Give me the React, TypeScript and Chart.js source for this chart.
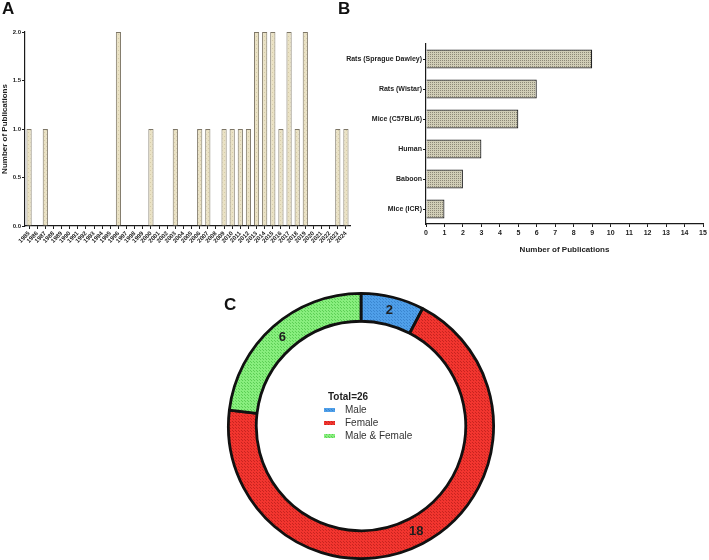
import React, { useEffect, useRef } from 'react';
import Chart from 'chart.js/auto';

const FONT = "Arial, 'Liberation Sans', Helvetica, sans-serif";

const years = [
  '1985', '1986', '1987', '1988', '1989', '1990', '1991', '1992', '1993', '1994',
  '1995', '1996', '1997', '1998', '1999', '2000', '2001', '2002', '2003', '2004',
  '2005', '2006', '2007', '2008', '2009', '2010', '2011', '2012', '2013', '2014',
  '2015', '2016', '2017', '2018', '2019', '2020', '2021', '2022', '2023', '2024',
];
const yearCounts = [
  1, 0, 1, 0, 0, 0, 0, 0, 0, 0,
  0, 2, 0, 0, 0, 1, 0, 0, 1, 0,
  0, 1, 1, 0, 1, 1, 1, 1, 2, 2,
  2, 1, 2, 1, 2, 0, 0, 0, 1, 1,
];
const yTicksA = [0, 0.5, 1, 1.5, 2];

const models = ['Rats (Sprague Dawley)', 'Rats (Wistar)', 'Mice (C57BL/6)', 'Human', 'Baboon', 'Mice (ICR)'];
const modelCounts = [9, 6, 5, 3, 2, 1];

const sexLabels = ['Male', 'Female', 'Male & Female'];
const sexCounts = [2, 18, 6];

function makePattern(base: string, dot: string, size = 3): CanvasPattern | string {
  const c = document.createElement('canvas');
  c.width = size;
  c.height = size;
  const g = c.getContext('2d');
  if (!g) return base;
  g.fillStyle = base;
  g.fillRect(0, 0, size, size);
  g.fillStyle = dot;
  g.fillRect(0, 0, 1, 1);
  if (size >= 3) g.fillRect(Math.floor(size / 2), Math.floor(size / 2), 1, 1);
  const p = g.createPattern(c, 'repeat');
  return p || base;
}

export default function App() {
  const refA = useRef<HTMLCanvasElement>(null);
  const refB = useRef<HTMLCanvasElement>(null);
  const refC = useRef<HTMLCanvasElement>(null);

  useEffect(() => {
    const charts: Chart[] = [];
    const patA = makePattern('#eae2c5', '#d6cca9', 4);
    const patB = makePattern('#d0cdb6', '#8c8877', 2);
    const patBlue = makePattern('#4f9fe9', '#3a86d0', 3);
    const patRed = makePattern('#f2352f', '#c8241f', 3);
    const patGreen = makePattern('#88ee7e', '#5ccf55', 3);
    const axisColor = '#1a1a1a';

    if (refA.current) {
      charts.push(new Chart(refA.current, {
        type: 'bar',
        data: {
          labels: years,
          datasets: [{
            data: yearCounts,
            backgroundColor: patA as any,
            borderColor: '#7d7666',
            borderWidth: 1,
            barPercentage: 0.64,
            categoryPercentage: 1,
          }],
        },
        options: {
          animation: false,
          responsive: false,
          maintainAspectRatio: false,
          layout: { padding: { top: 32, right: 10, left: 0, bottom: 0 } },
          plugins: { legend: { display: false }, tooltip: { enabled: false } },
          scales: {
            x: {
              grid: { offset: false, drawOnChartArea: false, drawTicks: true, tickLength: 3, color: axisColor, lineWidth: 1 },
              border: { color: axisColor, width: 1.2 },
              ticks: {
                autoSkip: false, maxRotation: 45, minRotation: 45, padding: 1,
                font: { size: 6, weight: 'bold', family: FONT }, color: '#222',
              },
              afterFit: (s: any) => { s.height = 64; },
            },
            y: {
              min: 0, max: 2,
              afterBuildTicks: (s: any) => { s.ticks = yTicksA.map((v) => ({ value: v })); },
              grid: { drawOnChartArea: false, drawTicks: true, tickLength: 3, color: axisColor, lineWidth: 1 },
              border: { color: axisColor, width: 1.2 },
              ticks: {
                padding: 1,
                callback: (v: any) => Number(v).toFixed(1),
                font: { size: 6, weight: 'bold', family: FONT }, color: '#222',
              },
              title: {
                display: true, text: 'Number of Publications', padding: 0,
                font: { size: 8, weight: 'bold', family: FONT }, color: '#222',
              },
              afterFit: (s: any) => { s.width = 25; },
            },
          },
        },
      }));
    }

    if (refB.current) {
      charts.push(new Chart(refB.current, {
        type: 'bar',
        data: {
          labels: models,
          datasets: [{
            data: modelCounts,
            backgroundColor: patB as any,
            borderColor: '#222',
            borderWidth: 1.2,
            barPercentage: 0.63,
            categoryPercentage: 1,
          }],
        },
        options: {
          indexAxis: 'y',
          animation: false,
          responsive: false,
          maintainAspectRatio: false,
          layout: { padding: { top: 44, right: 6, left: 0, bottom: 15 } },
          plugins: { legend: { display: false }, tooltip: { enabled: false } },
          scales: {
            x: {
              min: 0, max: 15,
              ticks: { stepSize: 1, padding: 2, font: { size: 7, weight: 'bold', family: FONT }, color: '#222' },
              grid: { drawOnChartArea: false, drawTicks: true, tickLength: 3, color: axisColor },
              border: { color: axisColor, width: 1.2 },
              title: {
                display: true, text: 'Number of Publications', padding: { top: 4, bottom: 0 },
                font: { size: 8, weight: 'bold', family: FONT }, color: '#222',
              },
              afterFit: (s: any) => { s.height = 31; },
            },
            y: {
              ticks: { padding: 1, font: { size: 7, weight: 'bold', family: FONT }, color: '#222' },
              grid: { offset: false, drawOnChartArea: false, drawTicks: true, tickLength: 3, color: axisColor },
              border: { color: axisColor, width: 1.2 },
              afterFit: (s: any) => { s.width = 86; },
            },
          },
        },
      }));
    }

    if (refC.current) {
      const fills = [patBlue, patRed, patGreen];
      const centerPlugin = {
        id: 'centerLegend',
        afterDraw(chart: any) {
          const ctx = chart.ctx as CanvasRenderingContext2D;
          const meta = chart.getDatasetMeta(0);
          ctx.save();
          ctx.fillStyle = '#1e1e1e';
          ctx.font = `bold 13px ${FONT}`;
          ctx.textAlign = 'center';
          ctx.textBaseline = 'middle';
          meta.data.forEach((arc: any, i: number) => {
            const p = arc.tooltipPosition();
            ctx.fillText(String(sexCounts[i]), p.x, p.y);
          });
          const cx = (chart.chartArea.left + chart.chartArea.right) / 2;
          const cy = (chart.chartArea.top + chart.chartArea.bottom) / 2;
          const total = sexCounts.reduce((a, b) => a + b, 0);
          ctx.textAlign = 'left';
          ctx.font = `bold 10px ${FONT}`;
          ctx.fillStyle = '#1e1e1e';
          ctx.fillText(`Total=${total}`, cx - 33, cy - 29);
          ctx.font = `10px ${FONT}`;
          sexLabels.forEach((lab, i) => {
            const y = cy - 16 + i * 13;
            ctx.fillStyle = fills[i] as any;
            ctx.fillRect(cx - 37, y - 2, 11, 4);
            ctx.fillStyle = '#333';
            ctx.fillText(lab, cx - 16, y);
          });
          ctx.restore();
        },
      };
      charts.push(new Chart(refC.current, {
        type: 'doughnut',
        data: {
          labels: sexLabels,
          datasets: [{
            data: sexCounts,
            backgroundColor: fills as any,
            borderColor: '#111',
            borderWidth: 2.8,
          }],
        },
        options: {
          animation: false,
          responsive: false,
          maintainAspectRatio: false,
          cutout: '79%',
          plugins: { legend: { display: false }, tooltip: { enabled: false } },
        },
        plugins: [centerPlugin],
      }));
    }

    return () => { charts.forEach((c) => c.destroy()); };
  }, []);

  const letter: React.CSSProperties = {
    position: 'absolute', fontFamily: FONT, fontWeight: 'bold', fontSize: 17, color: '#111', lineHeight: '17px',
  };

  return (
    <div style={{ position: 'absolute', left: 0, top: 0, width: 709, height: 560, background: '#fff', overflow: 'hidden' }}>
      <canvas ref={refA} width={360} height={290} style={{ position: 'absolute', left: 0, top: 0, width: 360, height: 290 }} />
      <canvas ref={refB} width={369} height={270} style={{ position: 'absolute', left: 340, top: 0, width: 369, height: 270 }} />
      <canvas ref={refC} width={270} height={268} style={{ position: 'absolute', left: 226, top: 292, width: 270, height: 268 }} />
      <div style={{ ...letter, left: 2, top: 0 }}>A</div>
      <div style={{ ...letter, left: 338, top: 0 }}>B</div>
      <div style={{ ...letter, left: 224, top: 296 }}>C</div>
    </div>
  );
}
